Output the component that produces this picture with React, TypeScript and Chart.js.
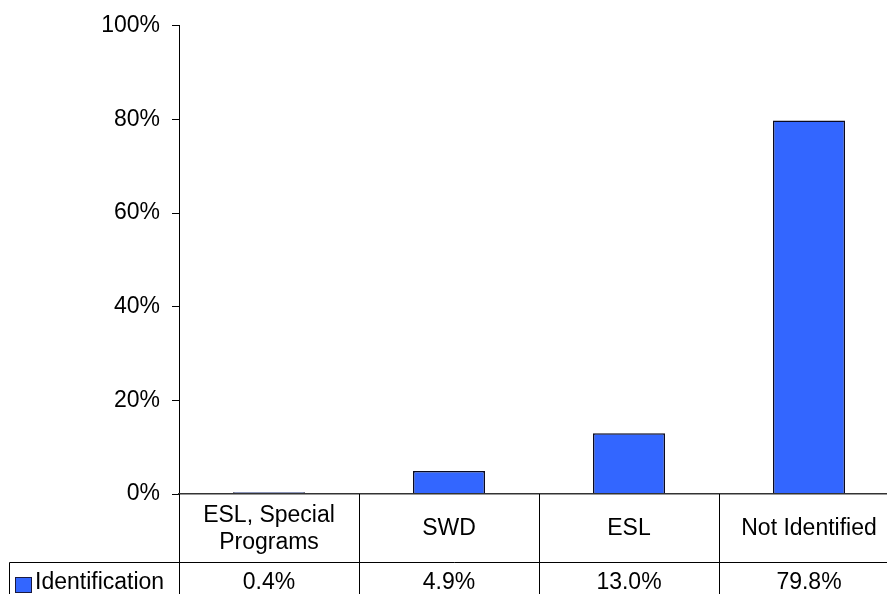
import React, { useEffect, useRef } from "react";
import { Chart, registerables } from "chart.js";

Chart.register(...registerables);

const categories: string[][] = [["ESL, Special", "Programs"], ["SWD"], ["ESL"], ["Not Identified"]];
const seriesName = "Identification";
const values: number[] = [0.4, 4.9, 13.0, 79.8];
const valueLabels: string[] = ["0.4%", "4.9%", "13.0%", "79.8%"];
const yTicks: number[] = [0, 20, 40, 60, 80, 100];

const FONT = "'Liberation Sans', Arial, sans-serif";
const BLUE = "#3366FF";
const CANVAS_W = 899;
const CANVAS_H = 594;

const tablePlugin = {
  id: "dataTable",
  afterDraw(chart: any) {
    const { ctx, chartArea, scales } = chart;
    const x = scales.x;
    const top = chartArea.bottom;
    const row1Bottom = top + 68;
    const bottom = chart.height + 2;
    const n = categories.length;
    ctx.save();
    ctx.strokeStyle = "#000";
    ctx.lineWidth = 1;
    ctx.beginPath();
    const lx = Math.round(chartArea.left) + 0.5;
    ctx.moveTo(lx, top);
    ctx.lineTo(lx, bottom);
    for (let i = 0; i < n; i++) {
      const bx = Math.round(x.getPixelForValue(i + 0.5)) + 0.5;
      ctx.moveTo(bx, top);
      ctx.lineTo(bx, bottom);
    }
    const hy = Math.round(row1Bottom) + 0.5;
    ctx.moveTo(9.5, hy);
    ctx.lineTo(chart.width, hy);
    ctx.moveTo(9.5, hy);
    ctx.lineTo(9.5, bottom);
    ctx.stroke();

    ctx.fillStyle = "#000";
    ctx.font = `23px ${FONT}`;
    ctx.textAlign = "center";
    ctx.textBaseline = "middle";
    const lineH = 27;
    for (let i = 0; i < n; i++) {
      const cx = x.getPixelForValue(i);
      const lines = categories[i];
      const mid = (top + row1Bottom) / 2 + 1;
      lines.forEach((t, k) => {
        ctx.fillText(t, cx, mid + (k - (lines.length - 1) / 2) * lineH);
      });
      ctx.fillText(valueLabels[i], cx, row1Bottom + 21);
    }
    ctx.fillStyle = BLUE;
    ctx.fillRect(15, 577, 16, 15);
    ctx.strokeStyle = "#1a1a40";
    ctx.strokeRect(15.5, 577.5, 16, 15);
    ctx.fillStyle = "#000";
    ctx.textAlign = "left";
    ctx.fillText(seriesName, 35, row1Bottom + 21);
    ctx.restore();
  },
};

export default function App() {
  const ref = useRef<HTMLCanvasElement | null>(null);
  useEffect(() => {
    document.body.style.margin = "0";
    document.body.style.overflow = "hidden";
    const canvas = ref.current!;
    const chart = new Chart(canvas, {
      type: "bar",
      data: {
        labels: categories.map((c) => c.join(" ")),
        datasets: [
          {
            label: seriesName,
            data: values,
            backgroundColor: BLUE,
            borderColor: "#0a0a20",
            borderWidth: 1.5,
            barPercentage: 0.4,
            categoryPercentage: 1,
          },
        ],
      },
      options: {
        responsive: false,
        animation: false,
        layout: { padding: { top: 24, left: 0, right: 0, bottom: 0 } },
        plugins: { legend: { display: false }, tooltip: { enabled: false } },
        scales: {
          x: {
            offset: true,
            grid: { display: false, drawTicks: false },
            border: { display: true, color: "#333", width: 1.5, z: 1 },
            ticks: { display: false },
            afterFit: (s: any) => {
              s.height = 100;
            },
          },
          y: {
            min: 0,
            max: 100,
            afterBuildTicks: (s: any) => {
              s.ticks = yTicks.map((v) => ({ value: v }));
            },
            grid: { drawOnChartArea: false, drawTicks: true, tickLength: 7, color: "#000" },
            border: { display: true, color: "#000", width: 1 },
            ticks: {
              color: "#000",
              padding: 12,
              font: { family: FONT, size: 23 },
              callback: (v: any) => `${v}%`,
            },
            afterFit: (s: any) => {
              s.width = 179;
            },
          },
        },
      },
      plugins: [tablePlugin],
    });
    return () => chart.destroy();
  }, []);
  return (
    <div style={{ position: "absolute", left: 0, top: 0, width: 887, height: 594, overflow: "hidden" }}>
      <canvas ref={ref} width={CANVAS_W} height={CANVAS_H} style={{ display: "block" }} />
    </div>
  );
}
